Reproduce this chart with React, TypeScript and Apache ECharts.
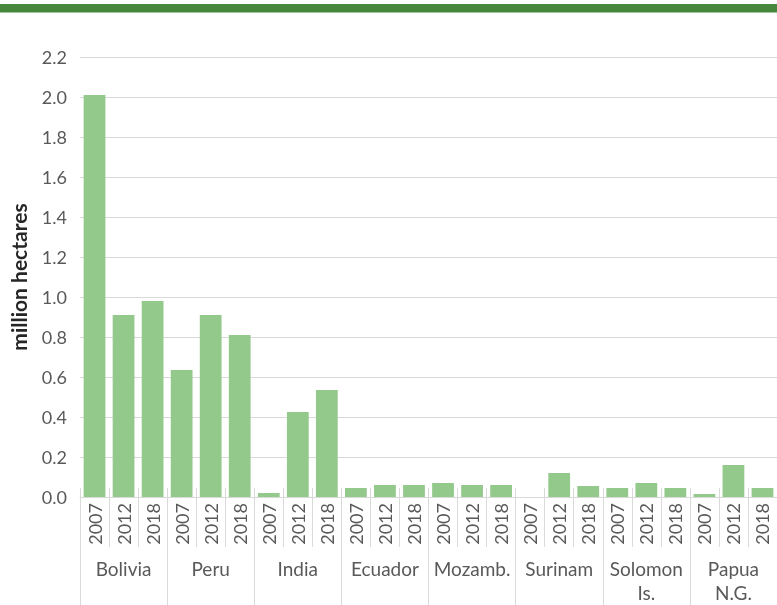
import React, { useEffect, useRef } from "react";
import * as echarts from "echarts";

const groups = ["Bolivia", "Peru", "India", "Ecuador", "Mozamb.", "Surinam", "Solomon\nIs.", "Papua\nN.G."];
const years = ["2007", "2012", "2018"];
const values = [
  2.01, 0.91, 0.98,
  0.635, 0.91, 0.81,
  0.02, 0.425, 0.535,
  0.045, 0.06, 0.06,
  0.07, 0.06, 0.06,
  0, 0.12, 0.055,
  0.045, 0.07, 0.045,
  0.015, 0.16, 0.045,
];
const yTicks = { min: 0, max: 2.2, interval: 0.2 };

const FONT = "Lato";
const TXT = "#595959";
const LINE = "#d9d9d9";

export default function App() {
  const ref = useRef<HTMLDivElement>(null);
  useEffect(() => {
    const chart = echarts.init(ref.current!, null, { renderer: "svg" });
    const cats: string[] = [];
    groups.forEach(() => years.forEach((y) => cats.push(y)));
    chart.setOption({
      animation: false,
      textStyle: { fontFamily: FONT },
      graphic: [
        { type: "rect", shape: { x: 0, y: 4, width: 777, height: 8.5 }, style: { fill: "#47873c" } },
      ],
      grid: { left: 79, right: 0, top: 57, bottom: 108 },
      xAxis: [
        {
          type: "category",
          data: cats,
          position: "bottom",
          offset: 0,
          axisLine: { show: true, lineStyle: { color: LINE, width: 1 } },
          axisTick: { show: true, inside: true, length: 9, interval: 0, lineStyle: { color: LINE } },
          axisLabel: { show: false },
        },
        {
          type: "category",
          data: cats,
          position: "bottom",
          offset: 0,
          axisLine: { show: false },
          axisTick: { show: true, length: 50, interval: 0, lineStyle: { color: LINE } },
          axisLabel: { interval: 0, rotate: 90, margin: 6, color: TXT, fontSize: 18, fontFamily: FONT },
        },
        {
          type: "category",
          data: groups,
          position: "bottom",
          offset: 0,
          axisLine: { show: false },
          axisTick: { show: true, length: 110, interval: 0, lineStyle: { color: LINE } },
          axisLabel: { interval: 0, margin: 59, color: TXT, fontSize: 19, lineHeight: 24, fontFamily: FONT },
        },
      ],
      yAxis: {
        type: "value",
        min: yTicks.min,
        max: yTicks.max,
        interval: yTicks.interval,
        name: "million hectares",
        nameLocation: "middle",
        nameGap: 51,
        nameTextStyle: { fontSize: 21, fontWeight: "bold", color: "#262626", fontFamily: FONT },
        axisLine: { show: false },
        axisTick: { show: false },
        axisLabel: { formatter: (v: number) => v.toFixed(1), color: TXT, fontSize: 18, margin: 13, fontFamily: FONT },
        splitLine: { lineStyle: { color: LINE, width: 1 } },
      },
      series: [
        {
          type: "bar",
          xAxisIndex: 0,
          data: values,
          barCategoryGap: "25%",
          itemStyle: { color: "#94c98c" },
        },
      ],
    });
    return () => chart.dispose();
  }, []);
  return <div ref={ref} style={{ position: "fixed", left: 0, top: 0, width: 777, height: 605 }} />;
}
